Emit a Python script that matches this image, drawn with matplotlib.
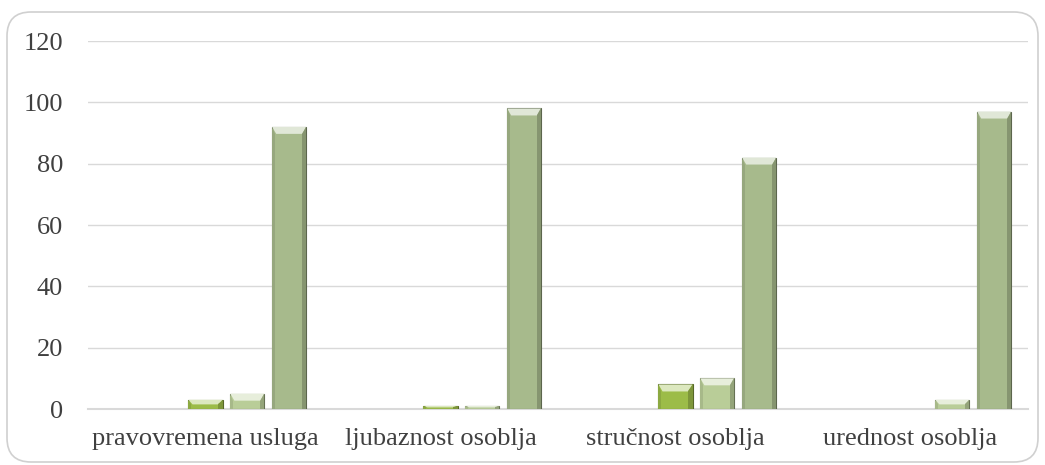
import matplotlib
matplotlib.use('Agg')
import matplotlib.pyplot as plt
import numpy as np
from matplotlib.patches import FancyBboxPatch, Polygon
from matplotlib.transforms import IdentityTransform
import matplotlib.colors as mcolors

categories = ['pravovremena usluga', 'ljubaznost osoblja', 'stručnost osoblja', 'urednost osoblja']
series_1 = [0, 0, 0, 0]
series_2 = [0, 0, 0, 0]
series_3 = [3, 1, 8, 0]
series_4 = [5, 1, 10, 3]
series_5 = [92, 98, 82, 97]
series = [series_1, series_2, series_3, series_4, series_5]
colors = ['#7f9f3a', '#8fae47', '#9cbc48', '#b9cd98', '#a7ba8c']

plt.rcParams['font.family'] = ['Liberation Serif', 'DejaVu Serif']

fig = plt.figure(figsize=(10.45, 4.65), dpi=100)
# rounded chart border, in pixels
border = FancyBboxPatch((7, 3), 1031, 450,
                        boxstyle='round,pad=0,rounding_size=24',
                        transform=IdentityTransform(), facecolor='none',
                        edgecolor='#d0d0d0', linewidth=1.2, zorder=5)
fig.patches.append(border)

ax = fig.add_axes([88 / 1045, 56 / 465, 940 / 1045, 368 / 465])
ax.set_facecolor('none')
ax.set_ylim(0, 120)
ax.set_yticks(range(0, 121, 20))
ax.grid(axis='y', color='#d9d9d9', linewidth=1)
ax.set_axisbelow(True)
for s in ['top', 'right', 'left']:
    ax.spines[s].set_visible(False)
ax.spines['bottom'].set_color('#d9d9d9')
ax.spines['bottom'].set_linewidth(1.5)
ax.tick_params(length=0, labelsize=19, labelcolor='#404040')
ax.tick_params(axis='y', pad=18)
ax.tick_params(axis='x', pad=14)

x = np.arange(len(categories))
n = len(series)
width = 0.145
step = 0.178
ax.set_xlim(-0.5, len(categories) - 0.5)

# pixel -> data helpers for bevel size
px_y = 120 / 368
bevel_px = 7

for i, (vals, col) in enumerate(zip(series, colors)):
    offs = (i - (n - 1) / 2) * step
    rgb = np.array(mcolors.to_rgb(col))
    bars = ax.bar(x + offs, vals, width, color=col,
                  edgecolor=mcolors.to_hex(rgb * 0.55),
                  linewidth=[0.8 if v > 0 else 0 for v in vals], zorder=3)
    light = rgb * 0.35 + 0.65
    dark = rgb * 0.8
    for b in bars:
        h = b.get_height()
        if h <= 0:
            continue
        x0, w = b.get_x(), b.get_width()
        bh = min(bevel_px * px_y, h / 2)
        bw = w * 0.12
        top = Polygon([[x0, h], [x0 + w, h], [x0 + w - bw, h - bh], [x0 + bw, h - bh]],
                      closed=True, facecolor=light, edgecolor='none', zorder=4)
        ax.add_patch(top)
        side = Polygon([[x0 + w, h], [x0 + w, 0], [x0 + w - bw, 0], [x0 + w - bw, h - bh]],
                       closed=True, facecolor=dark, edgecolor='none', zorder=4)
        ax.add_patch(side)
        left = Polygon([[x0, h], [x0, 0], [x0 + bw * 0.6, 0], [x0 + bw * 0.6, h - bh]],
                       closed=True, facecolor=rgb * 0.9, edgecolor='none', zorder=4)
        ax.add_patch(left)

ax.set_xticks(x)
ax.set_xticklabels(categories)

fig.savefig('out.png', dpi=100)
